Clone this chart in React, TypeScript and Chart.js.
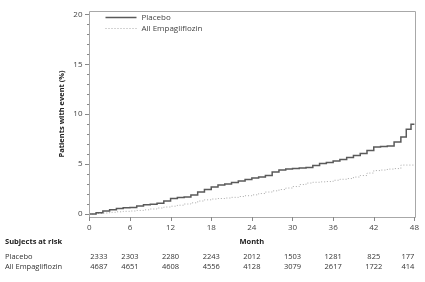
import React, { useEffect, useRef } from "react";
import { Chart, registerables } from "chart.js";

Chart.register(...registerables);

const placeboMonths = [0, 1, 2, 3, 4, 5, 6, 7, 8, 9, 10, 11, 12, 13, 14, 15, 16, 17, 18, 19, 20, 21, 22, 23, 24, 25, 26, 27, 28, 29, 30, 31, 32, 33, 34, 35, 36, 37, 38, 39, 40, 41, 42, 43, 44, 45, 46, 46.8, 47.5, 48];
const placeboPct = [0, 0.12, 0.3, 0.42, 0.55, 0.62, 0.66, 0.8, 0.92, 0.98, 1.08, 1.3, 1.55, 1.65, 1.7, 1.9, 2.2, 2.45, 2.7, 2.9, 3.0, 3.15, 3.3, 3.45, 3.6, 3.7, 3.85, 4.2, 4.4, 4.5, 4.55, 4.6, 4.65, 4.85, 5.05, 5.15, 5.3, 5.45, 5.65, 5.85, 6.05, 6.35, 6.7, 6.75, 6.8, 7.2, 7.7, 8.5, 9.0, 9.0];

const empaMonths = [0, 1, 2, 3, 4, 5, 6, 7, 8, 9, 10, 11, 12, 13, 14, 15, 16, 17, 18, 19, 20, 21, 22, 23, 24, 25, 26, 27, 28, 29, 30, 31, 32, 33, 34, 35, 36, 37, 38, 39, 40, 41, 42, 43, 44, 45, 46, 47, 48];
const empaPct = [0, 0.05, 0.1, 0.17, 0.22, 0.27, 0.3, 0.36, 0.42, 0.5, 0.6, 0.7, 0.78, 0.88, 1.0, 1.12, 1.3, 1.42, 1.5, 1.55, 1.6, 1.67, 1.75, 1.83, 1.92, 2.05, 2.2, 2.32, 2.45, 2.6, 2.75, 2.95, 3.1, 3.18, 3.22, 3.25, 3.38, 3.48, 3.55, 3.7, 3.85, 4.1, 4.35, 4.4, 4.5, 4.55, 4.9, 4.9, 4.9];

const riskMonths = [0, 6, 12, 18, 24, 30, 36, 42, 48];
const yTickValues = [0, 5, 10, 15, 20];
const placeboAtRisk = [2333, 2303, 2280, 2243, 2012, 1503, 1281, 825, 177];
const empaAtRisk = [4687, 4651, 4608, 4556, 4128, 3079, 2617, 1722, 414];

const seriesNames = ["Placebo", "All Empagliflozin"];
const xTitle = "Month";
const yTitle = "Patients with event (%)";
const riskTitle = "Subjects at risk";

const FONT = "'Open Sans', 'DejaVu Sans', sans-serif";

const overlayPlugin = {
  id: "overlay",
  afterDraw(chart: any) {
    const ctx = chart.ctx as CanvasRenderingContext2D;
    const area = chart.chartArea;
    const xs = chart.scales.x;
    const ys = chart.scales.y;
    ctx.save();
    // frame
    ctx.strokeStyle = "#a8a8a8";
    ctx.lineWidth = 1;
    ctx.beginPath();
    ctx.moveTo(Math.round(area.left) + 0.5, Math.round(area.bottom) + 0.5);
    ctx.lineTo(Math.round(area.left) + 0.5, Math.round(area.top) + 0.5);
    ctx.lineTo(Math.round(area.right) + 0.5, Math.round(area.top) + 0.5);
    ctx.lineTo(Math.round(area.right) + 0.5, Math.round(area.bottom) + 0.5);
    ctx.lineTo(Math.round(area.left) + 0.5, Math.round(area.bottom) + 0.5);
    ctx.stroke();
    // y ticks (major every 5, minor every 1)
    ctx.strokeStyle = "#888";
    for (let v = 0; v <= 20; v++) {
      const p = Math.round(ys.getPixelForValue(v)) + 0.5;
      const len = v % 5 === 0 ? 4 : 2;
      ctx.beginPath();
      ctx.moveTo(Math.round(area.left), p);
      ctx.lineTo(Math.round(area.left) - len, p);
      ctx.stroke();
    }
    // x ticks
    for (const m of riskMonths) {
      const p = Math.round(xs.getPixelForValue(m)) + 0.5;
      ctx.beginPath();
      ctx.moveTo(p, Math.round(area.bottom));
      ctx.lineTo(p, Math.round(area.bottom) + 4);
      ctx.stroke();
    }
    // y title
    ctx.fillStyle = "#222";
    ctx.font = `bold 7.5px ${FONT}`;
    ctx.textAlign = "center";
    ctx.textBaseline = "middle";
    ctx.save();
    ctx.translate(62, (area.top + area.bottom) / 2);
    ctx.rotate(-Math.PI / 2);
    ctx.fillText(yTitle, 0, 0);
    ctx.restore();
    // x title
    ctx.fillText(xTitle, (area.left + area.right) / 2, 242);
    // legend
    const ds = chart.data.datasets;
    const legY = [17, 28];
    ds.forEach((d: any, i: number) => {
      ctx.save();
      ctx.strokeStyle = d.borderColor;
      ctx.lineWidth = d.borderWidth;
      ctx.setLineDash(d.borderDash || []);
      ctx.beginPath();
      ctx.moveTo(area.left + 17, legY[i] + 0.5);
      ctx.lineTo(area.left + 48, legY[i] + 0.5);
      ctx.stroke();
      ctx.restore();
      ctx.fillStyle = "#444";
      ctx.font = `8px ${FONT}`;
      ctx.textAlign = "left";
      ctx.textBaseline = "middle";
      ctx.fillText(d.label, area.left + 53, legY[i] + 0.5);
    });
    // risk table
    ctx.fillStyle = "#222";
    ctx.font = `bold 7.5px ${FONT}`;
    ctx.textAlign = "left";
    ctx.fillText(riskTitle, 5, 242);
    ctx.font = `7.5px ${FONT}`;
    ctx.fillStyle = "#333";
    const rows = [placeboAtRisk, empaAtRisk];
    const rowY = [257, 267];
    rows.forEach((row, r) => {
      ctx.textAlign = "left";
      ctx.fillText(seriesNames[r], 5, rowY[r]);
      row.forEach((n, i) => {
        const px = xs.getPixelForValue(riskMonths[i]);
        if (i === 0) {
          ctx.textAlign = "left";
          ctx.fillText(String(n), px + 1, rowY[r]);
        } else if (i === row.length - 1) {
          ctx.textAlign = "right";
          ctx.fillText(String(n), px, rowY[r]);
        } else {
          ctx.textAlign = "center";
          ctx.fillText(String(n), px, rowY[r]);
        }
      });
    });
    ctx.restore();
  },
};

export default function App() {
  const ref = useRef<HTMLCanvasElement | null>(null);
  useEffect(() => {
    if (!ref.current) return;
    const chart = new Chart(ref.current, {
      type: "line",
      data: {
        datasets: [
          {
            label: seriesNames[0],
            data: placeboMonths.map((m, i) => ({ x: m, y: placeboPct[i] })),
            borderColor: "#5a5a5a",
            borderWidth: 1.5,
            stepped: true,
            pointRadius: 0,
            fill: false,
          },
          {
            label: seriesNames[1],
            data: empaMonths.map((m, i) => ({ x: m, y: empaPct[i] })),
            borderColor: "#a8a8a8",
            borderWidth: 1,
            borderDash: [1, 2],
            stepped: true,
            pointRadius: 0,
            fill: false,
          },
        ],
      },
      options: {
        responsive: false,
        animation: false,
        devicePixelRatio: 1,
        layout: { padding: { left: 54, top: 6, right: 8, bottom: 0 } },
        plugins: { legend: { display: false }, tooltip: { enabled: false } },
        scales: {
          x: {
            type: "linear",
            min: -0.12,
            max: 48.12,
            grid: { display: false, drawTicks: false },
            border: { display: false },
            afterBuildTicks: (s: any) => {
              s.ticks = riskMonths.map((v) => ({ value: v }));
            },
            afterFit: (s: any) => {
              s.height = 65;
            },
            ticks: {
              autoSkip: false,
              maxRotation: 0,
              padding: 6,
              color: "#444",
              font: { family: FONT, size: 8 },
            },
          },
          y: {
            type: "linear",
            min: -0.3,
            max: 20.35,
            grid: { display: false, drawTicks: false },
            border: { display: false },
            afterBuildTicks: (s: any) => {
              s.ticks = yTickValues.map((v) => ({ value: v }));
            },
            afterFit: (s: any) => {
              s.width = 34.5;
            },
            ticks: {
              autoSkip: false,
              padding: 6,
              color: "#444",
              font: { family: FONT, size: 8 },
            },
          },
        },
      },
      plugins: [overlayPlugin],
    });
    return () => chart.destroy();
  }, []);
  return (
    <div style={{ position: "absolute", left: 0, top: 0, width: 425, height: 282, background: "#fff" }}>
      <canvas ref={ref} width={425} height={282} style={{ display: "block" }} />
    </div>
  );
}
